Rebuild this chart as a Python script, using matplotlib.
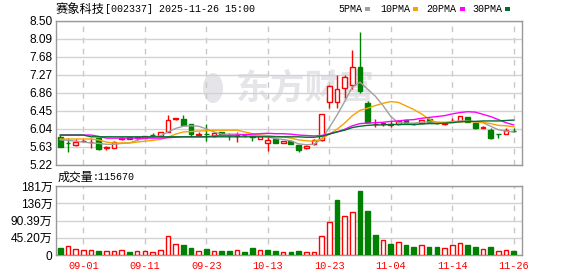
import matplotlib
matplotlib.use('Agg')
import matplotlib.pyplot as plt
from matplotlib.patches import Ellipse
import numpy as np

# ---------------- data ----------------
opens = [5.86, 5.72, 5.67, 5.76, 5.74, 5.83, 5.61, 5.61, 5.82, 5.85,
         5.83, 5.83, 5.91, 5.88, 5.98, 6.27, 6.26, 6.14, 5.90, 5.93,
         5.88, 5.98, 5.91, 5.88, 5.91, 5.90, 5.81, 5.71, 5.80, 5.71,
         5.77, 5.67, 5.60, 5.70, 5.79, 6.64, 6.66, 6.96, 7.04, 7.44,
         6.63, 6.14, 6.15, 6.13, 6.14, 6.24, 6.14, 6.17, 6.26, 6.19,
         6.16, 6.21, 6.23, 6.30, 6.18, 6.07, 6.01, 5.93, 5.92, 6.00]
highs = [5.90, 5.83, 5.81, 5.80, 5.83, 5.83, 5.65, 5.76, 5.86, 5.85,
         5.86, 5.88, 5.94, 5.97, 6.35, 6.29, 6.35, 6.14, 5.96, 6.16,
         5.96, 5.98, 5.94, 5.96, 5.93, 5.90, 5.88, 5.86, 5.80, 5.77,
         5.77, 5.67, 5.68, 5.81, 6.38, 7.03, 7.26, 7.26, 7.83, 8.23,
         6.67, 6.26, 6.19, 6.21, 6.24, 6.24, 6.17, 6.25, 6.28, 6.20,
         6.19, 6.28, 6.33, 6.30, 6.18, 6.11, 6.07, 5.93, 6.05, 6.05]
lows = [5.62, 5.51, 5.64, 5.74, 5.61, 5.56, 5.57, 5.61, 5.79, 5.80,
        5.79, 5.83, 5.86, 5.88, 5.98, 6.25, 6.12, 5.86, 5.88, 5.77,
        5.85, 5.90, 5.79, 5.74, 5.86, 5.77, 5.80, 5.54, 5.71, 5.71,
        5.69, 5.52, 5.58, 5.68, 5.77, 6.51, 6.52, 6.75, 6.94, 6.85,
        6.19, 6.09, 6.11, 6.09, 6.12, 6.15, 6.12, 6.17, 6.20, 6.14,
        6.13, 6.20, 6.23, 6.19, 6.03, 6.05, 5.80, 5.84, 5.92, 5.96]
closes = [5.635, 5.71, 5.75, 5.77, 5.75, 5.58, 5.63, 5.75, 5.84, 5.81,
          5.85, 5.88, 5.90, 5.97, 6.24, 6.28, 6.13, 5.92, 5.93, 5.92,
          5.94, 5.91, 5.90, 5.91, 5.89, 5.85, 5.87, 5.78, 5.73, 5.77,
          5.69, 5.55, 5.66, 5.78, 6.37, 7.01, 6.94, 7.21, 7.44, 6.90,
          6.20, 6.16, 6.17, 6.15, 6.21, 6.18, 6.15, 6.24, 6.20, 6.18,
          6.17, 6.22, 6.33, 6.20, 6.07, 6.08, 5.84, 5.92, 6.02, 5.99]

ma5 = [5.79, 5.78, 5.76, 5.74, 5.72, 5.71, 5.69, 5.69, 5.71, 5.72,
       5.78, 5.83, 5.86, 5.88, 5.97, 6.05, 6.10, 6.11, 6.10, 6.04,
       5.97, 5.92, 5.92, 5.92, 5.91, 5.89, 5.88, 5.86, 5.82, 5.80,
       5.77, 5.70, 5.68, 5.69, 5.81, 6.07, 6.35, 6.66, 6.99, 7.10,
       6.94, 6.78, 6.57, 6.32, 6.18, 6.17, 6.17, 6.19, 6.20, 6.19,
       6.19, 6.20, 6.22, 6.22, 6.20, 6.18, 6.10, 6.02, 5.99, 5.97]
ma10 = [5.81, 5.81, 5.81, 5.81, 5.81, 5.79, 5.74, 5.72, 5.72, 5.72,
        5.74, 5.76, 5.78, 5.80, 5.85, 5.92, 5.97, 5.98, 5.99, 6.00,
        6.01, 6.01, 6.01, 6.01, 5.97, 5.93, 5.90, 5.89, 5.87, 5.86,
        5.83, 5.79, 5.77, 5.76, 5.81, 5.92, 6.03, 6.17, 6.34, 6.46,
        6.51, 6.57, 6.62, 6.66, 6.64, 6.56, 6.48, 6.38, 6.26, 6.18,
        6.18, 6.19, 6.20, 6.21, 6.20, 6.19, 6.16, 6.12, 6.11, 6.09]
ma20 = [5.90, 5.90, 5.90, 5.90, 5.90, 5.87, 5.83, 5.83, 5.83, 5.83,
        5.83, 5.83, 5.83, 5.83, 5.84, 5.85, 5.86, 5.86, 5.86, 5.86,
        5.88, 5.89, 5.89, 5.90, 5.91, 5.92, 5.93, 5.94, 5.93, 5.93,
        5.92, 5.90, 5.89, 5.88, 5.89, 5.93, 5.97, 6.03, 6.11, 6.16,
        6.17, 6.18, 6.19, 6.21, 6.22, 6.24, 6.25, 6.28, 6.30, 6.32,
        6.34, 6.38, 6.41, 6.43, 6.42, 6.37, 6.32, 6.25, 6.18, 6.13]
ma30 = [5.90, 5.90, 5.90, 5.90, 5.86, 5.86, 5.86, 5.86, 5.86, 5.86,
        5.86, 5.86, 5.86, 5.86, 5.86, 5.86, 5.86, 5.86, 5.86, 5.86,
        5.86, 5.86, 5.86, 5.86, 5.86, 5.86, 5.86, 5.86, 5.86, 5.86,
        5.86, 5.86, 5.85, 5.85, 5.87, 5.92, 5.97, 6.01, 6.07, 6.10,
        6.12, 6.13, 6.13, 6.14, 6.14, 6.14, 6.14, 6.15, 6.16, 6.16,
        6.17, 6.18, 6.20, 6.21, 6.21, 6.22, 6.22, 6.22, 6.23, 6.24]

# volume in 万
volumes = [19, 23.6, 15.7, 13, 13, 10.5, 10.5, 10.5, 13, 8.7,
           10.5, 10.5, 7.9, 13, 49.8, 28.8, 26.2, 19, 10.5, 15.7,
           10.5, 11.4, 11.4, 13, 8.7, 19, 13, 13, 11.4, 7.9,
           8.7, 11.4, 7.9, 7.9, 49.8, 86.5, 145, 102, 112.7, 167.7,
           116, 52.4, 39.3, 29.7, 34, 26.2, 21, 25.3, 21, 21,
           17.5, 25.3, 31.4, 26.2, 21, 15, 21, 9.7, 12.3, 11.567]
vol_up = [0, 1, 1, 1, 1, 0, 1, 1, 1, 0,
          1, 1, 1, 1, 1, 1, 0, 0, 1, 0,
          1, 0, 0, 1, 0, 0, 1, 0, 0, 1,
          0, 0, 1, 1, 1, 1, 0, 1, 1, 0,
          0, 0, 1, 0, 1, 0, 0, 1, 0, 0,
          1, 1, 1, 0, 0, 1, 0, 1, 1, 0]

price_ticks = [5.22, 5.63, 6.04, 6.45, 6.86, 7.27, 7.68, 8.09, 8.50]
price_labels = ['5.22', '5.63', '6.04', '6.45', '6.86', '7.27', '7.68', '8.09', '8.50']
vol_ticks = [0, 45.195, 90.39, 135.585, 180.78]
vol_labels = ['0', '45.20万', '90.39万', '136万', '181万']
date_idx = [3, 11, 19, 27, 35, 43, 51, 59]
date_labels = ['09-01', '09-11', '09-23', '10-13', '10-23', '11-04', '11-14', '11-26']

title_cn = '赛象科技'
title_rest = '[002337] 2025-11-26 15:00'
vol_title_cn = '成交量'
vol_title_rest = ':115670'
legend_names = ['5PMA', '10PMA', '20PMA', '30PMA']

# ---------------- style ----------------
RED = '#ff0000'
GREEN = '#008000'
ma_colors = ['#a0a0a0', '#f5a300', '#ff00ff', '#006f2e']
SPINE = '#999999'
GRID = '#d2d2d2'
WM = '#e5e5e9'
W, H = 578, 276
NUM_FONT = ['Liberation Sans', 'Noto Sans CJK SC']
MONO_FONT = ['Liberation Mono', 'Noto Sans CJK SC']
CJK_FONT = ['Noto Sans CJK SC', 'DejaVu Sans']

fig = plt.figure(figsize=(W / 100, H / 100), dpi=100)
fig.patch.set_facecolor('white')


def ax_rect(l, t, r, b):
    return [l / W, 1 - b / H, (r - l) / W, (b - t) / H]


ax = fig.add_axes(ax_rect(56, 20.5, 522, 165))
axv = fig.add_axes(ax_rect(56, 186, 522, 255))

x = np.arange(len(closes))
xlim = (-0.56, 60.08)

for a in (ax, axv):
    a.set_xlim(*xlim)
    for s in a.spines.values():
        s.set_color(SPINE)
        s.set_linewidth(1)
    a.set_xticks(date_idx)
    a.grid(axis='x', color='#c8c8c8', linestyle=(0, (4, 4)), linewidth=1)
    a.grid(axis='y', color=GRID, linestyle='-', linewidth=1)
    a.set_axisbelow(True)
    a.tick_params(length=0)

# watermark (logo text + simple emblem)
ax.text(0.536, 0.533, '东方财富', transform=ax.transAxes, ha='center', va='center',
        fontsize=25, fontweight='bold', color=WM, family=CJK_FONT, zorder=0.5)
ax.add_patch(Ellipse(((213 - 56) / 466, (165 - 88) / 144.5), 20 / 466, 30 / 144.5,
                     angle=0, transform=ax.transAxes, facecolor=WM,
                     edgecolor='none', zorder=0.5))

# price panel
ax.set_ylim(5.22, 8.50)
ax.set_yticks(price_ticks)
ax.set_yticklabels(price_labels, family=NUM_FONT, fontsize=8.6)
ax.tick_params(axis='y', pad=2.5)
ax.tick_params(axis='x', labelbottom=False)

o = np.array(opens); c = np.array(closes); h = np.array(highs); l = np.array(lows)
up = c >= o
cols = np.where(up, RED, GREEN)
ax.vlines(x, l, h, colors=cols, linewidth=1, zorder=3)
ax.bar(x, np.abs(c - o), bottom=np.minimum(o, c), width=0.62,
       facecolor=np.where(up, 'white', GREEN), edgecolor=cols, linewidth=1, zorder=4)

for vals, col in zip([ma5, ma10, ma20, ma30], ma_colors):
    ax.plot(x, vals, color=col, linewidth=1, zorder=5)

# volume panel
axv.set_ylim(0, 180.78)
axv.set_yticks(vol_ticks)
axv.set_yticklabels(vol_labels, family=NUM_FONT, fontsize=8.6)
axv.tick_params(axis='y', pad=2.5)
axv.set_xticklabels(date_labels, family=MONO_FONT, fontsize=7.4, color=RED)
axv.tick_params(axis='x', pad=4.5)
vu = np.array(vol_up) == 1
axv.bar(x, volumes, width=0.6, facecolor=np.where(vu, 'white', GREEN),
        edgecolor=np.where(vu, RED, GREEN), linewidth=1, zorder=3)

# titles
fig.text(56 / W, 1 - 9 / H, title_cn, family=CJK_FONT, fontsize=8.8, va='center', ha='left')
fig.text(105 / W, 1 - 9 / H, title_rest, family=MONO_FONT, fontsize=7.2, va='center', ha='left')
fig.text(58 / W, 1 - 177 / H, vol_title_cn, family=CJK_FONT, fontsize=8.6, va='center', ha='left')
fig.text(93 / W, 1 - 177 / H, vol_title_rest, family=MONO_FONT, fontsize=7.2, va='center', ha='left')

# legend
leg_x = [338, 380, 426, 472]
mark_x = [365, 413, 460, 505]
for name, lx, mx, col in zip(legend_names, leg_x, mark_x, ma_colors):
    fig.text(lx / W, 1 - 9 / H, name, family=MONO_FONT, fontsize=7.2, va='center', ha='left')
    fig.patches.append(plt.Rectangle((mx / W, 1 - 11 / H), 5 / W, 4 / H,
                                     transform=fig.transFigure, facecolor=col,
                                     edgecolor='none', figure=fig))

fig.savefig('out.png', dpi=100)
